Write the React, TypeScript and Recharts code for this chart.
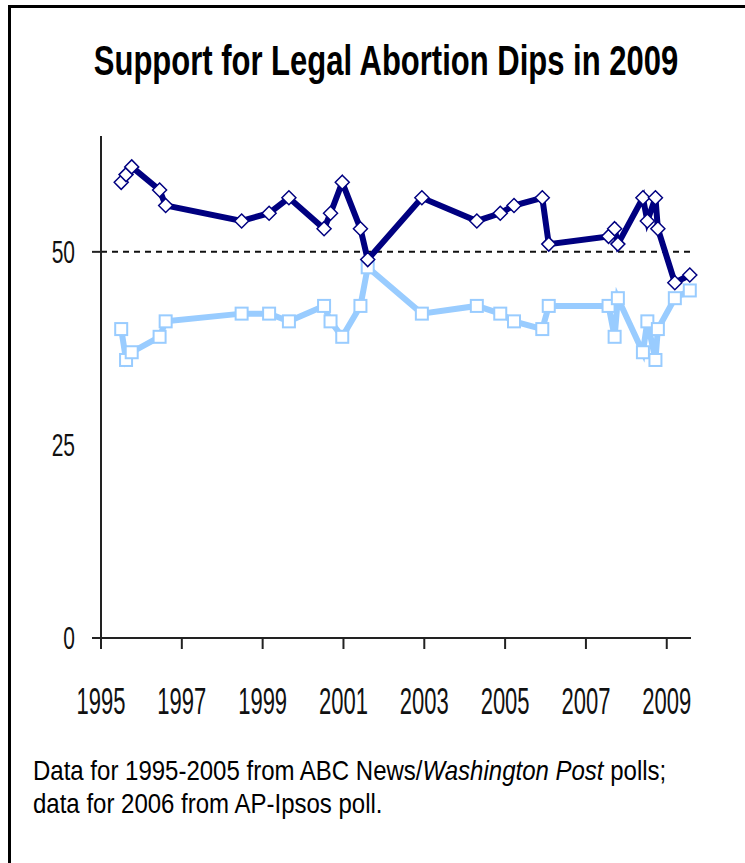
import { LineChart, Line, XAxis, YAxis, ReferenceLine } from "recharts";

const pollDates = [
  1995.5, 1995.62, 1995.76, 1996.45, 1996.6, 1998.48, 1999.16, 1999.65, 2000.52, 2000.68,
  2000.97, 2001.42, 2001.6, 2002.94, 2004.3, 2004.88, 2005.22, 2005.92, 2006.08, 2007.56,
  2007.71, 2007.79, 2008.41, 2008.52, 2008.72, 2008.78, 2009.2, 2009.57,
];
const legalAllMost = [
  59, 60, 61, 58, 56, 54, 55, 57, 53, 55, 59, 53, 49, 57, 54, 55, 56, 57, 51, 52, 53, 51, 57, 54,
  57, 53, 46, 47,
];
const illegalAllMost = [
  40, 36, 37, 39, 41, 42, 42, 41, 43, 41, 39, 43, 48, 42, 43, 42, 41, 40, 43, 43, 39, 44, 37, 41,
  36, 40, 44, 45,
];
const yearTicks = [1995, 1997, 1999, 2001, 2003, 2005, 2007, 2009];
const valueTicks = [0, 25, 50];
const markedValues = [0, 50];

const NAVY = "#000080";
const SKY = "#99CCFF";
const FONT = "'Liberation Sans', Arial, sans-serif";

const data = pollDates.map((d, i) => ({ date: d, legal: legalAllMost[i], illegal: illegalAllMost[i] }));

function Diamond(props: any) {
  const { cx, cy, index } = props;
  const r = 7;
  return (
    <path
      key={`d-${index}`}
      d={`M${cx},${cy - r}L${cx + r},${cy}L${cx},${cy + r}L${cx - r},${cy}Z`}
      fill="#fff"
      stroke={NAVY}
      strokeWidth={1.5}
    />
  );
}

function Square(props: any) {
  const { cx, cy, index } = props;
  const r = 6;
  return (
    <rect key={`s-${index}`} x={cx - r} y={cy - r} width={r * 2} height={r * 2} fill="#fff" stroke={SKY} strokeWidth={2} />
  );
}

function YTick(props: any) {
  const { x, y, payload } = props;
  return (
    <g>
      {markedValues.includes(payload.value) && <line x1={x + 17} x2={x + 26} y1={y} y2={y} stroke="#222" strokeWidth={2} />}
      <text transform={`translate(${x},${y + 11}) scale(1,1.45)`} textAnchor="end" fontSize={21} fontFamily={FONT} fill="#111">
        {payload.value}
      </text>
    </g>
  );
}

function XTick(props: any) {
  const { x, y, payload } = props;
  return (
    <text transform={`translate(${x},${y}) scale(1,1.65)`} textAnchor="middle" fontSize={22} fontFamily={FONT} fill="#111">
      {payload.value}
    </text>
  );
}

export default function App() {
  return (
    <div style={{ position: "relative", width: 745, height: 863, background: "#fff", overflow: "hidden" }}>
      <style>{"body{margin:0}"}</style>
      <div style={{ position: "absolute", left: 8, top: 5, width: 3, height: 858, background: "#000" }} />
      <div style={{ position: "absolute", left: 8, top: 5, right: 0, height: 3, background: "#000" }} />

      <div
        style={{
          position: "absolute",
          top: 36,
          left: 0,
          width: 772,
          textAlign: "center",
          fontFamily: FONT,
          fontWeight: "bold",
          fontSize: 31,
          color: "#000",
          transform: "scaleY(1.4)",
          transformOrigin: "center top",
          whiteSpace: "nowrap",
        }}
      >
        Support for Legal Abortion Dips in 2009
      </div>

      <div style={{ position: "absolute", left: 0, top: 0 }}>
        <LineChart width={745} height={720} data={data} margin={{ top: 136, right: 54, left: 50, bottom: 22 }}>
          <XAxis
            dataKey="date"
            type="number"
            domain={[1995, 2009.6]}
            ticks={yearTicks}
            height={60}
            tickSize={11}
            tickMargin={65}
            tick={<XTick />}
            axisLine={{ stroke: "#222", strokeWidth: 2 }}
            tickLine={{ stroke: "#222", strokeWidth: 2 }}
          />
          <YAxis
            type="number"
            domain={[0, 65]}
            ticks={valueTicks}
            width={51}
            tickSize={9}
            tickMargin={17}
            tickLine={false}
            tick={<YTick />}
            axisLine={{ stroke: "#222", strokeWidth: 2 }}
          />
          <ReferenceLine y={50} stroke="#111" strokeWidth={2} strokeDasharray="6 5" />
          <Line
            dataKey="illegal"
            stroke={SKY}
            strokeWidth={6}
            dot={<Square />}
            activeDot={false}
            isAnimationActive={false}
          />
          <Line
            dataKey="legal"
            stroke={NAVY}
            strokeWidth={6}
            dot={<Diamond />}
            activeDot={false}
            isAnimationActive={false}
          />
        </LineChart>
      </div>

      <div
        style={{
          position: "absolute",
          left: 33,
          top: 754,
          fontFamily: FONT,
          fontSize: 24,
          lineHeight: "28px",
          color: "#000",
          transform: "scaleY(1.18)",
          transformOrigin: "left top",
          whiteSpace: "nowrap",
        }}
      >
        Data for 1995-2005 from ABC News/<i>Washington Post</i> polls;
        <br />
        data for 2006 from AP-Ipsos poll.
      </div>
    </div>
  );
}
